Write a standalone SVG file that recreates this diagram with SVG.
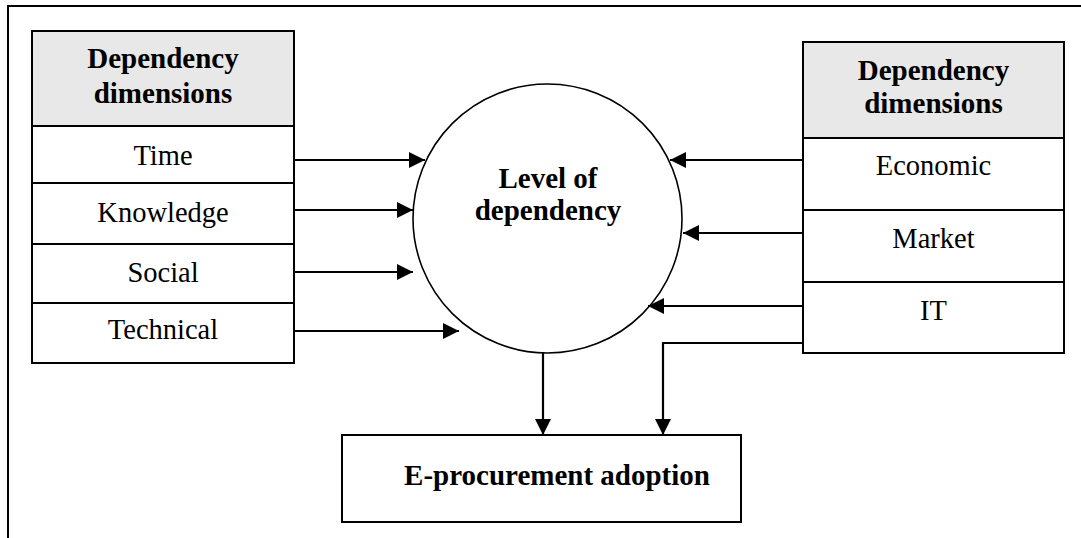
<svg xmlns="http://www.w3.org/2000/svg" width="1081" height="538" viewBox="0 0 1081 538">
  <style>
    .box { fill: #ffffff; stroke: #000; stroke-width: 2; }
    .head { fill: #e8e8e8; stroke: #000; stroke-width: 2; }
    .t { font-family: "Liberation Serif", "Times New Roman", serif; font-size: 28.5px; fill: #000; text-anchor: middle; }
    .b { font-weight: bold; font-size: 29px; }
    .edge { fill: none; stroke: #000; stroke-width: 2.2; }
  </style>
  <defs>
    <marker id="arrow" viewBox="0 0 16 16" refX="16" refY="8" markerWidth="16" markerHeight="16" markerUnits="userSpaceOnUse" orient="auto">
      <path d="M0,0 L16,8 L0,16 Z" fill="#000"/>
    </marker>
  </defs>

  <!-- frame -->
  <path d="M8,538 L8,6 L1081,6" fill="none" stroke="#000" stroke-width="2"/>

  <!-- left dimension table -->
  <g id="left-dimensions">
    <rect class="head" x="32" y="31" width="262" height="95"/>
    <text class="t b" x="163" y="68">Dependency</text>
    <text class="t b" x="163" y="103">dimensions</text>
    <rect class="box" x="32" y="126" width="262" height="57"/>
    <text class="t" x="163" y="165">Time</text>
    <rect class="box" x="32" y="183" width="262" height="61"/>
    <text class="t" x="163" y="222">Knowledge</text>
    <rect class="box" x="32" y="244" width="262" height="59"/>
    <text class="t" x="163" y="282">Social</text>
    <rect class="box" x="32" y="303" width="262" height="60"/>
    <text class="t" x="163" y="339">Technical</text>
  </g>

  <!-- right dimension table -->
  <g id="right-dimensions">
    <rect class="head" x="803" y="42" width="261" height="96"/>
    <text class="t b" x="933.5" y="80">Dependency</text>
    <text class="t b" x="933.5" y="113">dimensions</text>
    <rect class="box" x="803" y="138" width="261" height="72"/>
    <text class="t" x="933.5" y="175">Economic</text>
    <rect class="box" x="803" y="210" width="261" height="72"/>
    <text class="t" x="933.5" y="248">Market</text>
    <rect class="box" x="803" y="282" width="261" height="71"/>
    <text class="t" x="933.5" y="320">IT</text>
  </g>

  <!-- central construct -->
  <g id="level-of-dependency">
    <circle cx="547.5" cy="218.5" r="134.5" fill="#fff" stroke="#000" stroke-width="1.6"/>
    <text class="t b" x="548" y="188">Level of</text>
    <text class="t b" x="548" y="220">dependency</text>
  </g>

  <!-- outcome -->
  <g id="e-procurement-adoption">
    <rect class="box" x="342" y="435" width="399" height="87"/>
    <text class="t b" x="557" y="485">E-procurement adoption</text>
  </g>

  <!-- connectors -->
  <g id="connectors">
    <path class="edge" d="M294,160 L425,160" marker-end="url(#arrow)"/>
    <path class="edge" d="M294,210 L413,210" marker-end="url(#arrow)"/>
    <path class="edge" d="M294,272 L413,272" marker-end="url(#arrow)"/>
    <path class="edge" d="M294,331 L459,331" marker-end="url(#arrow)"/>
    <path class="edge" d="M803,160 L670,160" marker-end="url(#arrow)"/>
    <path class="edge" d="M803,233 L683,233" marker-end="url(#arrow)"/>
    <path class="edge" d="M803,306 L648,306" marker-end="url(#arrow)"/>
    <path class="edge" d="M803,343 L663,343 L663,435" marker-end="url(#arrow)"/>
    <path class="edge" d="M543,353 L543,435" marker-end="url(#arrow)"/>
  </g>
</svg>
